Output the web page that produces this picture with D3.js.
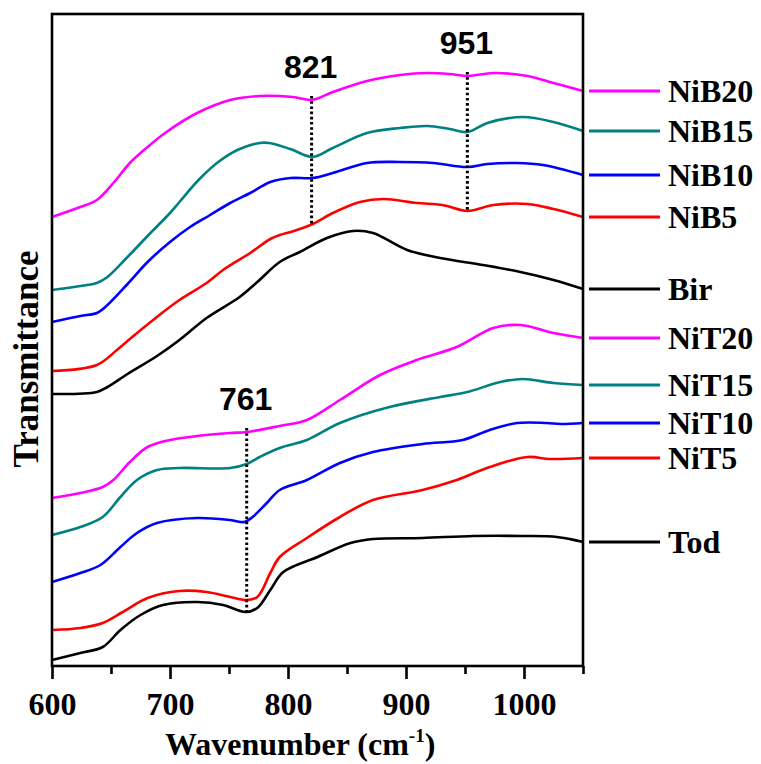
<!DOCTYPE html>
<html>
<head>
<meta charset="utf-8">
<script src="https://cdn.jsdelivr.net/npm/d3@7"></script>
<style>
  body { margin: 0; background: #fff; }
  text { font-family: "Liberation Serif", "Times New Roman", serif; font-weight: bold; }
</style>
</head>
<body>
<svg id="chart" width="761" height="764"></svg>
<script>
// x axis ticks (cm-1)
const majorTicks = [600, 700, 800, 900, 1000];
const minorTicks = [650, 750, 850, 950, 1050];

// spectra as [wavenumber, transmittance (a.u.)]
const NiB20 = [[600,44.9],[624,45.9],[638,46.6],[652,48.3],[666,50.3],[681,51.9],[697,53.4],[723,55.3],[751,56.6],[776,57.0],[804,56.9],[820,56.6],[838,57.4],[867,58.5],[895,59.1],[918,59.3],[937,59.2],[953,59.0],[974,59.3],[1003,59.0],[1025,58.3],[1050,57.5]];
const NiB15 = [[600,37.6],[624,38.0],[638,38.3],[647,38.9],[664,40.9],[681,43.0],[700,45.3],[708,46.4],[725,48.7],[742,50.5],[759,51.7],[776,52.3],[784,52.3],[802,51.7],[821,50.9],[838,51.8],[867,53.3],[895,53.8],[918,54.0],[937,53.7],[952,53.4],[969,54.3],[999,54.9],[1025,54.4],[1050,53.5]];
const NiB10 = [[600,34.4],[624,35.0],[638,35.3],[647,36.1],[664,38.2],[681,40.4],[700,42.4],[717,43.9],[734,45.1],[751,46.3],[768,47.3],[785,48.4],[802,48.8],[821,48.8],[838,49.3],[867,50.3],[895,50.4],[923,50.3],[952,49.9],[969,50.2],[994,50.3],[1016,50.1],[1050,49.1]];
const NiB5 = [[600,29.5],[638,30.1],[655,31.6],[669,33.0],[690,35.0],[708,36.6],[731,38.3],[745,39.6],[768,41.3],[785,42.7],[793,43.1],[805,43.5],[821,44.2],[838,45.3],[861,46.4],[881,46.7],[909,46.3],[931,46.1],[952,45.5],[974,46.1],[1003,46.2],[1025,45.7],[1050,44.9]];
const Bir = [[600,27.2],[638,27.4],[647,27.9],[664,29.2],[689,31.0],[708,32.6],[731,34.8],[759,36.9],[774,38.4],[793,40.4],[810,41.4],[833,42.8],[855,43.5],[872,43.3],[901,41.6],[929,40.8],[965,40.1],[997,39.4],[1025,38.6],[1050,37.7]];
const NiT20 = [[600,16.8],[624,17.3],[643,17.9],[652,18.6],[666,20.4],[681,21.9],[700,22.6],[723,23.0],[751,23.3],[765,23.4],[793,24.0],[816,24.6],[844,26.6],[878,29.1],[909,30.6],[943,31.9],[974,33.8],[997,34.1],[1025,33.3],[1050,32.8]];
const NiT15 = [[600,13.1],[624,13.9],[643,14.9],[658,16.9],[672,18.6],[689,19.6],[708,19.8],[751,19.8],[765,20.2],[776,20.9],[793,21.8],[816,22.6],[844,24.3],[886,25.9],[929,26.9],[952,27.4],[980,28.4],[999,28.7],[1025,28.3],[1050,28.1]];
const NiT10 = [[600,8.4],[624,9.3],[641,10.1],[658,11.9],[672,13.3],[689,14.3],[723,14.8],[751,14.6],[763,14.4],[770,14.9],[782,16.3],[793,17.6],[816,18.6],[844,20.3],[872,21.4],[914,22.2],[948,22.6],[971,23.6],[994,24.3],[1019,24.3],[1031,24.2],[1050,24.3]];
const NiT5 = [[600,3.6],[624,3.8],[643,4.3],[660,5.4],[681,6.8],[708,7.5],[731,7.4],[751,6.9],[764,6.6],[774,6.9],[785,9.3],[793,10.9],[816,12.8],[844,14.9],[872,16.6],[914,17.6],[943,18.6],[971,19.9],[1003,20.9],[1022,20.7],[1050,20.8]];
const Tod = [[600,0.6],[624,1.3],[643,1.9],[658,3.6],[675,5.1],[694,6.1],[723,6.4],[745,6.1],[764,5.4],[774,5.8],[785,7.6],[796,9.4],[825,10.9],[853,12.3],[872,12.7],[914,12.8],[957,13.0],[999,13.0],[1028,12.9],[1050,12.4]];

const seriesNames = ["NiB20", "NiB15", "NiB10", "NiB5", "Bir", "NiT20", "NiT15", "NiT10", "NiT5", "Tod"];
const seriesValues = [NiB20, NiB15, NiB10, NiB5, Bir, NiT20, NiT15, NiT10, NiT5, Tod];
const seriesColors = ["#ff00ff", "#008080", "#0000ff", "#ff0000", "#000000",
                      "#ff00ff", "#008080", "#0000ff", "#ff0000", "#000000"];

// marked bands: dotted line runs from one spectrum down to another
const peakLabels = ["821", "951", "761"];
const peakPositions = [820, 952, 765];
const peakFrom = ["NiB20", "NiB20", "NiT20"];
const peakTo = ["NiB5", "NiB5", "Tod"];

const svg = d3.select("#chart");
const plotLeft = 52, plotTop = 14, plotRight = 583, plotBottom = 666;

const x = d3.scaleLinear().domain([600, 1050]).range([plotLeft, plotRight]);
const y = d3.scaleLinear().domain([0, 65.2]).range([plotBottom, plotTop]);

// linear lookup of a spectrum at a wavenumber
function valueAt(data, wn) {
  const i = d3.bisector(d => d[0]).left(data, wn);
  if (i <= 0) return data[0][1];
  if (i >= data.length) return data[data.length - 1][1];
  const a = data[i - 1], b = data[i];
  return a[1] + (b[1] - a[1]) * (wn - a[0]) / (b[0] - a[0]);
}

const line = d3.line()
  .x(d => x(d[0]))
  .y(d => y(d[1]))
  .curve(d3.curveCatmullRom.alpha(0.5));

// spectra
svg.append("g")
  .selectAll("path")
  .data(seriesValues)
  .enter().append("path")
  .attr("d", line)
  .attr("fill", "none")
  .attr("stroke", (d, i) => seriesColors[i])
  .attr("stroke-width", 2.6)
  .attr("stroke-linejoin", "round");

// dotted markers
peakLabels.forEach((lab, i) => {
  const wn = peakPositions[i];
  const yTop = y(valueAt(seriesValues[seriesNames.indexOf(peakFrom[i])], wn)) - 4;
  const yBot = y(valueAt(seriesValues[seriesNames.indexOf(peakTo[i])], wn));
  svg.append("line")
    .attr("x1", x(wn)).attr("x2", x(wn))
    .attr("y1", yTop).attr("y2", yBot)
    .attr("stroke", "#000")
    .attr("stroke-width", 3)
    .attr("stroke-dasharray", "2.6,2.6");
  svg.append("text")
    .attr("x", x(wn) - 1)
    .attr("y", yTop - 18)
    .attr("text-anchor", "middle")
    .style("font-family", "'Liberation Sans', Arial, sans-serif")
    .style("font-size", "32px")
    .text(lab);
});

// frame
svg.append("rect")
  .attr("x", plotLeft).attr("y", plotTop)
  .attr("width", plotRight - plotLeft).attr("height", plotBottom - plotTop)
  .attr("fill", "none")
  .attr("stroke", "#000")
  .attr("stroke-width", 2.6);

// bottom axis: major ticks with labels, minor ticks without
const xAxis = d3.axisBottom(x)
  .tickValues(majorTicks)
  .tickSize(13)
  .tickPadding(13)
  .tickFormat(d3.format("d"));
const gx = svg.append("g")
  .attr("transform", `translate(0,${plotBottom})`)
  .call(xAxis);
gx.select(".domain").remove();
gx.selectAll(".tick line").attr("stroke-width", 2.6);
gx.selectAll(".tick text")
  .style("font-family", "'Liberation Serif', 'Times New Roman', serif")
  .style("font-weight", "bold")
  .style("font-size", "32px");

const gMinor = svg.append("g")
  .attr("transform", `translate(0,${plotBottom})`)
  .call(d3.axisBottom(x).tickValues(minorTicks).tickSize(8).tickFormat(""));
gMinor.select(".domain").remove();
gMinor.selectAll(".tick line").attr("stroke-width", 2.6);

// axis titles
const xt = svg.append("text")
  .attr("x", 165)
  .attr("y", 755)
  .style("font-size", "32px");
xt.append("tspan").text("Wavenumber (cm");
xt.append("tspan").attr("dy", -13).style("font-size", "19px").text("-1");
xt.append("tspan").attr("dy", 13).text(")");

svg.append("text")
  .attr("transform", "translate(38,359) rotate(-90)")
  .attr("text-anchor", "middle")
  .style("font-size", "35px")
  .text("Transmittance");

// legend, each entry level with the end of its spectrum
const legend = svg.append("g")
  .selectAll("g")
  .data(seriesNames)
  .enter().append("g")
  .attr("transform", (d, i) => {
    const data = seriesValues[i];
    return `translate(0,${y(data[data.length - 1][1])})`;
  });
legend.append("line")
  .attr("x1", 589).attr("x2", 660)
  .attr("stroke", (d, i) => seriesColors[i])
  .attr("stroke-width", 2.8);
legend.append("text")
  .attr("x", 668)
  .attr("dy", "0.33em")
  .style("font-size", "32px")
  .text(d => d);
</script>
</body>
</html>
